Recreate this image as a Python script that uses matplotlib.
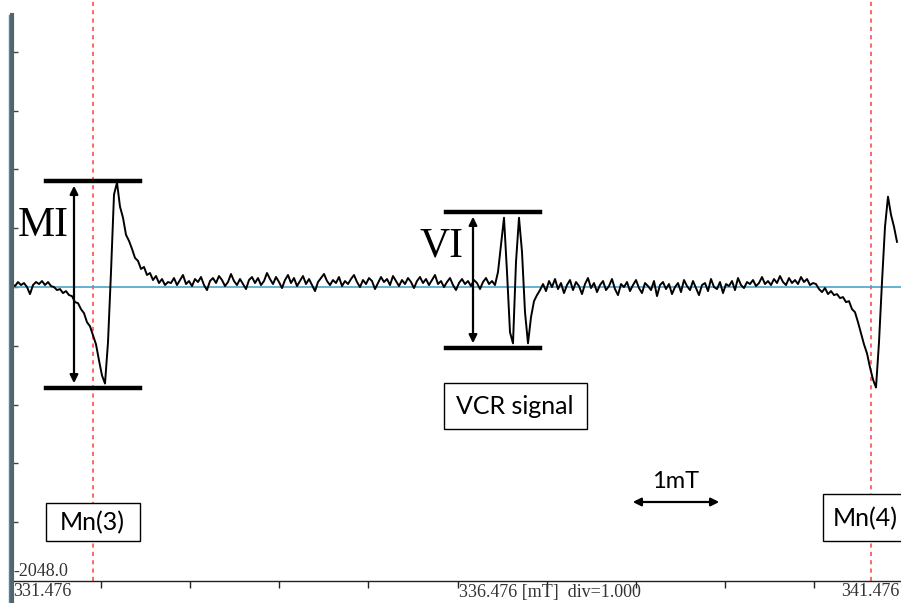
import numpy as np
import matplotlib
matplotlib.use("Agg")
import matplotlib.pyplot as plt
from matplotlib.lines import Line2D
from matplotlib.patches import FancyArrowPatch, Rectangle

# sweep axis [mT]
field_start = 331.476
field_step = 0.03367
y_min, y_max = -2048.0, 2000.0

# marker lines Mn(3) / Mn(4) [mT]
mn3_field = 332.385
mn4_field = 341.117

# ESR trace in instrument counts, split by region
mn3_region = [21, 7, 35, 14, 28, 0, -49, 14, 35, 21,
              42, 14, 35, 7, 0, -21, -14, -42, -28, -56,
              -63, -105, -112, -154, -182, -245, -273, -336, -399, -511,
              -616, -672, -385, 105, 644, 728, 560, 483, 364, 322,
              266, 203, 182, 126, 140, 84, 98, 49, 77, 28,
              56, 14, 35]
baseline_a = [28, 63, 14, 49, 84, 21, 42, 7, 56, 35,
              70, 14, -21, 42, 63, 28, 77, 49, 7, 35,
              91, 42, 14, 56, 21, -14, 49, 70, 28, 63,
              14, 42, 98, 56, 21, 70, 35, -7, 49, 84,
              28, 63, 7, 42, 77, 21, 56, 14, -28, 35,
              63, 91, 42, 14, 49, 28, 70, 7, 42, 21,
              56, 84, 35, 0, 49, 21, 63, 42, -14, 28,
              70, 35, 56, 14, 77, 42, 7, 49, 21, 63,
              35, -7, 42, 70, 28, 56, 14, 49, 84, 21,
              42, 0, 35, 63, 14, -21, 28, 56, 21, 42,
              7, 49, 28, -14, 35, 63, 21, 42, 14]
vcr_region = [105, 294, 483, 105, -315, -392, 175, 483, 245, -175,
              -392, -210, -98, -56, -21]
baseline_b = [21, -28, 42, 0, 56, -14, 28, -42, 14, 49,
              -21, 35, 7, -49, 21, 63, -7, 28, -35, 14,
              42, -21, 7, 56, -14, -56, 21, 0, 35, -28,
              14, 49, -7, -42, 28, 7, -21, 42, -63, 14,
              35, -14, 21, -49, 0, 28, -35, 49, 7, -21,
              42, -7, -56, 14, 28, -28, 56, 0, -14, 35,
              -42, 21, 7, 42, -21, 63, 14, -7, 35, 21,
              49, 7, 28, 70, 21, 42, 14, 56, 28, 77,
              35, 14, 63, 28, 49, 21, 70, 35, 56, 14,
              28]
mn4_region = [21, -14, -35, -7, -49, -28, -56, -49, -77, -70,
              -105, -98, -154, -175, -245, -322, -399, -462, -560, -644,
              -700, -385, 35, 420, 630, 504, 420, 315]

signal = np.array(mn3_region + baseline_a + vcr_region + baseline_b + mn4_region, dtype=float)
field = field_start + np.arange(len(signal)) * field_step

W, H = 901, 603
fig = plt.figure(figsize=(W / 100, H / 100), dpi=100)
ax = fig.add_axes([12 / W, 22 / H, 889 / W, 581 / H])

def fx(x):
    return x / W

def fy(y):
    return 1 - y / H

ax.set_xlim(field_start, field_start + 889 / 89.1)
ax.set_ylim(y_min, y_max)

# zero line, markers, trace
ax.axhline(0, color="#4ba3c9", lw=1.2, zorder=2)
for f in (mn3_field, mn4_field):
    ax.axvline(f, color="#ff4d4d", lw=1.2, ls=(0, (2.5, 2.5)), zorder=1)
ax.plot(field, signal, color="black", lw=1.4, zorder=3)

# axes styling
for s in ("top", "right", "left"):
    ax.spines[s].set_visible(False)
ax.spines["bottom"].set_color("#222222")
ax.spines["bottom"].set_linewidth(1.0)
ax.set_xticks(field_start + np.arange(1, 10))
ax.set_yticks(y_min + 409.6 * np.arange(1, 10))
ax.tick_params(axis="x", direction="out", length=5, width=1, color="#222222", labelbottom=False)
ax.tick_params(axis="y", direction="in", length=4.5, width=1, color="#444444", labelleft=False)

# thick instrument frame on the left
fig.add_artist(Line2D([fx(11.5), fx(11.5)], [fy(15), 0], color="#55636a", lw=3.0))
fig.add_artist(Line2D([fx(9), fx(9)], [fy(15), 0], color="#3f8ea3", lw=1.0))

serif = "Liberation Serif"
sans = "Lato"
lab = dict(fontsize=13, family=serif, color="#333333", va="center", ha="left")
fig.text(fx(13), fy(571), "-2048.0", **lab)
fig.text(fx(13), fy(592), "331.476", **lab)
fig.text(fx(459), fy(592), "336.476 [mT]  div=1.000", **lab)
fig.text(fx(899), fy(592), "341.476", **dict(lab, ha="right"))

# amplitude brackets
def bracket(x0, x1, xa, ytop, ybot, label, lx, ly):
    for yy in (ytop, ybot):
        fig.add_artist(Line2D([fx(x0), fx(x1)], [fy(yy), fy(yy)], color="black", lw=3.2))
    fig.add_artist(FancyArrowPatch((fx(xa), fy(ytop + 2)), (fx(xa), fy(ybot - 2)),
                                   transform=fig.transFigure, arrowstyle="<|-|>",
                                   mutation_scale=12, color="black", lw=1.6))
    fig.text(fx(lx), fy(ly), label, fontsize=30, family=serif, color="black", va="center", ha="center")

bracket(46, 140, 74, 181, 388, "MI", 43, 226)
bracket(446, 540, 473, 212, 348, "VI", 442, 246)

# labelled boxes (x0, y0, x1, y1 in pixels from top-left)
def label_box(x0, y0, x1, y1, text, tx, size):
    fig.add_artist(Rectangle((fx(x0), fy(y1)), (x1 - x0) / W, (y1 - y0) / H,
                             transform=fig.transFigure, fc="white", ec="black", lw=1.0))
    fig.text(fx(tx), fy((y0 + y1) / 2 + 1), text, fontsize=size, family=sans,
             va="center", ha="center")

label_box(444, 383, 587, 429, "VCR signal", 515, 18)
label_box(46, 503, 140, 541, "Mn(3)", 92, 18)
label_box(823, 494, 915, 541, "Mn(4)", 865, 18)

# scale bar
fig.text(fx(676), fy(481), "1mT", fontsize=17, family=sans, va="center", ha="center")
fig.add_artist(FancyArrowPatch((fx(630), fy(502)), (fx(722), fy(502)),
                               transform=fig.transFigure, arrowstyle="<|-|>",
                               mutation_scale=12, color="black", lw=1.6))

fig.savefig("out.png", dpi=100)
